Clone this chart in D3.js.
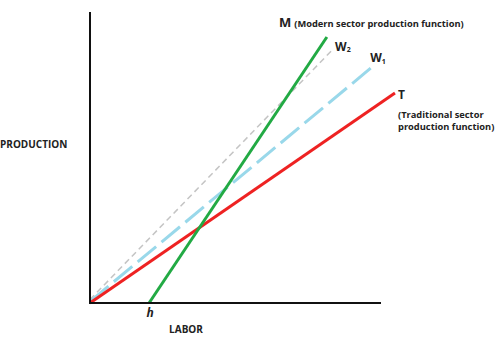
<!DOCTYPE html>
<html><head><meta charset="utf-8">
<script src="https://cdn.jsdelivr.net/npm/d3@7"></script>
<style>body{margin:0;background:#fff}svg{display:block}text{font-family:"Open Sans",sans-serif;font-weight:bold;fill:#222}</style>
</head><body><svg id="c" width="500" height="343"></svg>
<script>
const lineNames = ["T", "M", "W1", "W2"];
const startX = [0, 2.03, 0, 0];
const startY = [0, 0, 0.05, 0.12];
const endX = [10.48, 8.14, 9.73, 8.32];
const endY = [7.22, 9.14, 8.14, 8.69];
const colors = ["#ee2222", "#22aa44", "#99d8ea", "#c4c4c4"];
const xLabel = "LABOR", yLabel = "PRODUCTION", hLabel = "h";

const svg = d3.select("#c");
const x = d3.scaleLinear().domain([0, 10]).range([90, 381]);
const y = d3.scaleLinear().domain([0, 10]).range([303, 12]);

const styles = {
  T: {w: 3, dash: null},
  M: {w: 3, dash: null},
  W1: {w: 3, dash: "24,7"},
  W2: {w: 1.5, dash: "6,4"}
};
const order = ["W2", "W1", "T", "M"];
const line = d3.line().x(d => x(d[0])).y(d => y(d[1]));
order.forEach(n => {
  const i = lineNames.indexOf(n);
  svg.append("path")
    .attr("d", line([[startX[i], startY[i]], [endX[i], endY[i]]]))
    .attr("stroke", colors[i]).attr("stroke-width", styles[n].w)
    .attr("stroke-dasharray", styles[n].dash).attr("fill", "none");
});

// axes
svg.append("line").attr("x1", x(0)).attr("x2", x(0)).attr("y1", y(10)).attr("y2", y(0) + 1)
  .attr("stroke", "#111").attr("stroke-width", 2);
svg.append("line").attr("x1", x(0) - 1).attr("x2", x(10)).attr("y1", y(0)).attr("y2", y(0))
  .attr("stroke", "#111").attr("stroke-width", 2);

// labels
const iM = lineNames.indexOf("M"), iT = lineNames.indexOf("T"), i1 = lineNames.indexOf("W1"), i2 = lineNames.indexOf("W2");
const tm = svg.append("text").attr("x", 279).attr("y", 27);
tm.append("tspan").attr("font-size", 13).text("M");
tm.append("tspan").attr("font-size", 9.3).attr("dx", 3).text("(Modern sector production function)");

const w2 = svg.append("text").attr("x", x(endX[i2]) + 3).attr("y", y(endY[i2]) + 1).attr("font-size", 12);
w2.append("tspan").text("W");
w2.append("tspan").attr("font-size", 7).attr("dy", 1).text("2");
const w1 = svg.append("text").attr("x", x(endX[i1]) - 3).attr("y", y(endY[i1]) - 4).attr("font-size", 12);
w1.append("tspan").text("W");
w1.append("tspan").attr("font-size", 7).attr("dy", 2).text("1");

svg.append("text").attr("x", x(endX[iT]) + 3).attr("y", y(endY[iT]) + 6).attr("font-size", 12).text("T");
svg.append("text").attr("x", 398).attr("y", 118).attr("font-size", 9.3).text("(Traditional sector");
svg.append("text").attr("x", 398).attr("y", 130).attr("font-size", 9.3).text("production function)");

svg.append("text").attr("x", 0).attr("y", 148).attr("font-size", 10).text(yLabel);
svg.append("text").attr("x", 186).attr("y", 333).attr("text-anchor", "middle").attr("font-size", 10).text(xLabel);
svg.append("text").attr("x", x(startX[iM]) + 1).attr("y", 317).attr("text-anchor", "middle")
  .attr("font-size", 12).attr("font-style", "italic").attr("font-weight", "normal").text(hLabel);
</script></body></html>
